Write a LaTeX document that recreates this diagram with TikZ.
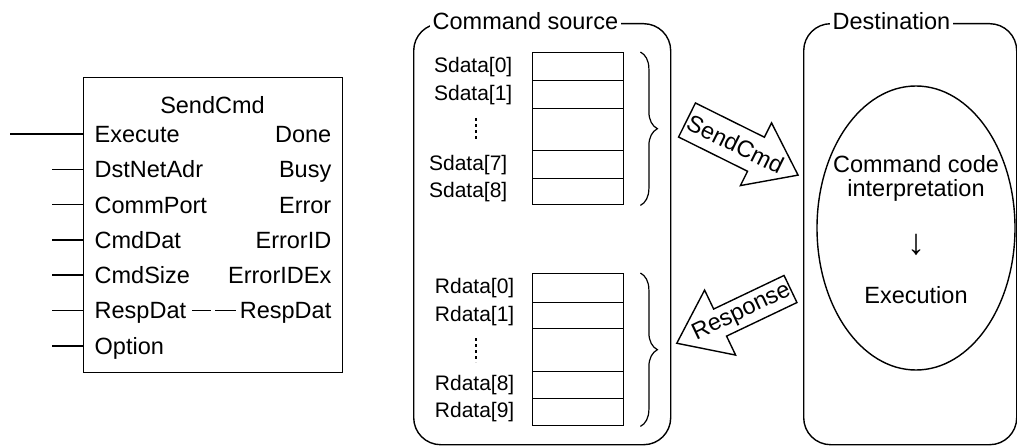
\documentclass[tikz,border=0pt]{standalone}
\usepackage{fontspec}
\setmainfont{Liberation Sans}
\usetikzlibrary{positioning,shapes.geometric,decorations.pathreplacing}

\begin{document}
\begin{tikzpicture}[x=1pt,y=-1pt,line width=1.4pt,
    every node/.style={font=\fontsize{23.5}{26}\selectfont,inner sep=0pt}]
    \tikzset{
      pinlab/.style={anchor=base west},
      poutlab/.style={anchor=base east},
      cell/.style={draw,minimum width=91pt,anchor=north west},
      idx/.style={font=\fontsize{21}{24}\selectfont},
      frame/.style={draw,rounded corners=27pt,anchor=north west},
      caption/.style={fill=white,inner xsep=3pt,inner ysep=2pt,anchor=base west},
      brc/.style={decorate,decoration={brace,amplitude=17pt},line width=1.2pt},
      vdots/.style={dash pattern=on 3pt off 3pt},
      blk/.style={draw,fill=white,line join=miter}
    }
    \useasboundingbox (0,0) rectangle (1017,446);
    % function block
    \node[draw,minimum width=259pt,minimum height=295pt,anchor=north west] (fb) at (83,77) {};
    \node[anchor=base] (fbname) at (212.5,114) {SendCmd};
    \foreach \i/\sx/\inp/\outp in {0/10/Execute/Done,1/52/DstNetAdr/Busy,2/52/CommPort/Error,
        3/52/CmdDat/ErrorID,4/52/CmdSize/ErrorIDEx,5/52/RespDat/RespDat,6/52/Option/{}} {
      \pgfmathsetmacro\ly{134+35.3*\i}
      \coordinate (pin\i) at (\sx,\ly);
      \draw (pin\i) -- (pin\i -| fb.west);
      \node[pinlab] (in\i) at (94,\ly+8.5) {\inp};
      \node[poutlab] (out\i) at (332,\ly+8.5) {\outp};
    }
    \draw ([xshift=5pt]in5.east |- pin5) -- ([xshift=-2pt]fb.center |- pin5);
    \draw ([xshift=2pt]fb.center |- pin5) -- ([xshift=-3pt]out5.west |- pin5);

    % command source
    \node[frame,minimum width=257pt,minimum height=421pt] (src) at (413,23) {};
    \node[caption] (srctitle) at (429,30) {Command source};
    \foreach \nm/\y/\h in {s0/52/28,s1/80/28,sg/108/42,s7/150/28,s8/178/26} {
      \node[cell,minimum height=\h pt] (\nm) at (532,\y) {};
    }
    \node[idx,left=19pt of s0] (ls0) {Sdata[0]};
    \node[idx,left=19pt of s1] (ls1) {Sdata[1]};
    \node[idx,left=24pt of s7] (ls7) {Sdata[7]};
    \node[idx,left=24pt of s8] (ls8) {Sdata[8]};
    \draw[vdots] (476,118) -- (476,142);
    \draw[brc] ([xshift=16pt]s0.north east) -- ([xshift=16pt]s8.south east);
    \foreach \nm/\y/\h in {r0/273/29,r1/302/26,rg/328/43,r8/371/27,r9/398/27} {
      \node[cell,minimum height=\h pt] (\nm) at (532,\y) {};
    }
    \node[idx,left=17pt of r0] (lr0) {Rdata[0]};
    \node[idx,left=17pt of r1] (lr1) {Rdata[1]};
    \node[idx,left=17pt of r8] (lr8) {Rdata[8]};
    \node[idx,left=17pt of r9] (lr9) {Rdata[9]};
    \draw[vdots] (476,338) -- (476,362);
    \draw[brc] ([xshift=16pt]r0.north east) -- ([xshift=16pt]r9.south east);

    % destination
    \node[frame,minimum width=213pt,minimum height=421pt] (dst) at (803,23) {};
    \node[caption] (dsttitle) at (829,30) {Destination};
    \node[draw,ellipse,minimum width=198pt,minimum height=284pt] (proc) at (916,228) {};
    \node[anchor=base] (interp1) at (916,173) {Command code};
    \node[anchor=base] (interp2) at (916,197) {interpretation};
    \node[font=\fontsize{36}{38}\selectfont] (stepdown) at (916,245) {↓};
    \node[anchor=base] (exec) at (916,303) {Execution};

    % block arrows
    \begin{scope}[shift={(687,120)},rotate=-26.4]
      \draw[blk] (0,-19) -- (77,-19) -- (77,-35) -- (124,0) -- (77,35) -- (77,19) -- (0,19) -- cycle;
    \end{scope}
    \node[rotate=-26.4] (sendlbl) at (735.4,144) {SendCmd};
    \begin{scope}[shift={(790.5,289)},rotate=205.5]
      \draw[blk] (0,-15) -- (78,-15) -- (78,-36) -- (126,0) -- (78,36) -- (78,15) -- (0,15) -- cycle;
    \end{scope}
    \node[rotate=25.5] (resplbl) at (741.7,312.2) {Response};
  \end{tikzpicture}
\end{document}
